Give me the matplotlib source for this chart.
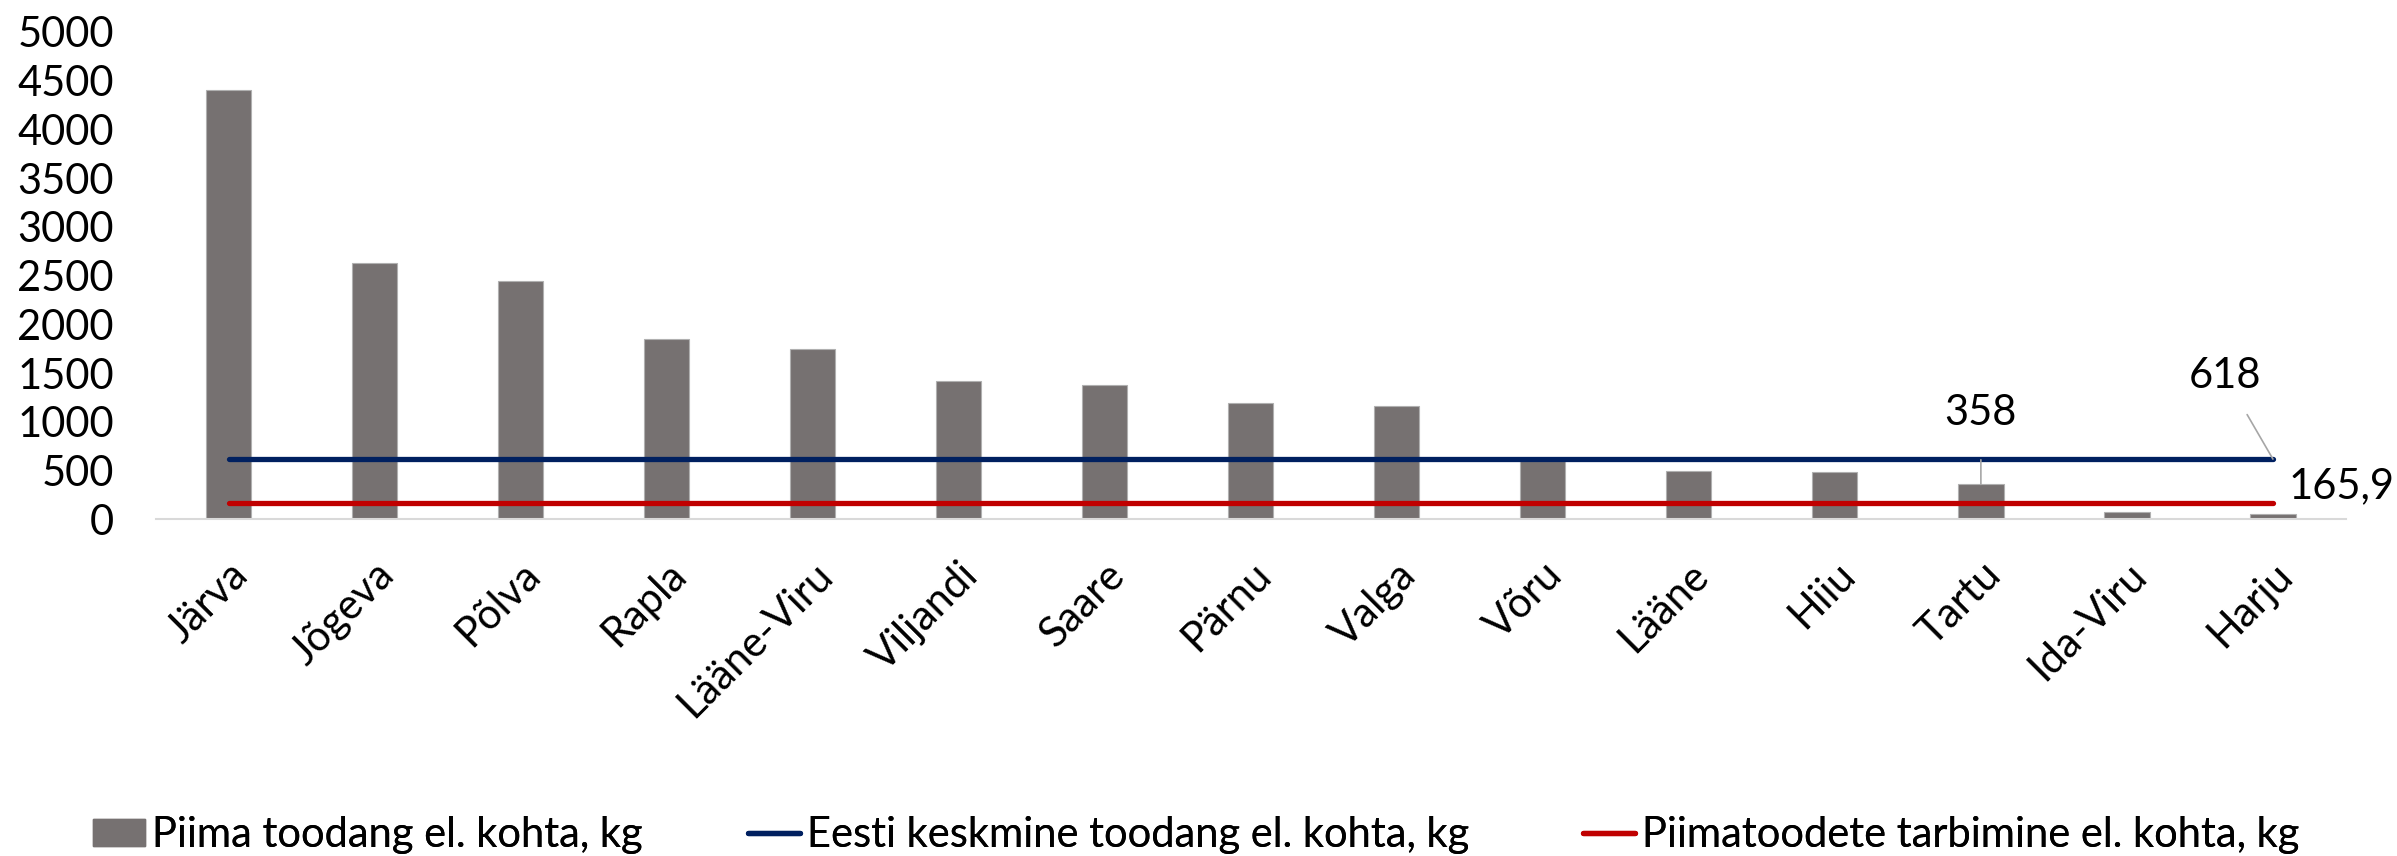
import matplotlib
matplotlib.use("Agg")
import matplotlib.pyplot as plt
from matplotlib.patches import Patch
from matplotlib.lines import Line2D

plt.rcParams['font.family'] = ['Lato', 'DejaVu Sans']

counties = ["Järva", "Jõgeva", "Põlva", "Rapla", "Lääne-Viru", "Viljandi", "Saare",
            "Pärnu", "Valga", "Võru", "Lääne", "Hiiu", "Tartu", "Ida-Viru", "Harju"]
milk_per_capita = [4400, 2630, 2440, 1852, 1750, 1422, 1374, 1196, 1165, 600, 495, 482, 358, 72, 51]
estonia_avg = [618] * len(counties)
consumption = [165.9] * len(counties)
yticks = [0, 500, 1000, 1500, 2000, 2500, 3000, 3500, 4000, 4500, 5000]

series_names = ["Piima toodang el. kohta, kg",
                "Eesti keskmine toodang el. kohta, kg",
                "Piimatoodete tarbimine el. kohta, kg"]

BAR = "#767171"
BLUE = "#002060"
RED = "#C00000"
FS = 30

fig = plt.figure(figsize=(23.97, 8.56), dpi=100)
ax = fig.add_axes([0.0649, 0.3933, 0.9138, 0.5696])

x = list(range(len(counties)))
ax.bar(x, milk_per_capita, width=0.31, color=BAR, edgecolor="#b0b0b0", linewidth=0.8, zorder=2)
ax.plot(x, estonia_avg, color=BLUE, linewidth=3.8, solid_capstyle="round", zorder=3)
ax.plot(x, consumption, color=RED, linewidth=3.8, solid_capstyle="round", zorder=3)

ax.set_xlim(-0.5, len(counties) - 0.5)
ax.set_ylim(0, 5000)
ax.set_yticks(yticks)
ax.set_yticklabels([str(v) for v in yticks], fontsize=FS)
ax.set_xticks(x)
ax.set_xticklabels(counties, fontsize=FS, rotation=45, ha="right", va="top",
                   rotation_mode="anchor")
ax.tick_params(axis="y", length=0, pad=30)
ax.tick_params(axis="x", length=0, pad=26)
for s in ["top", "right", "left"]:
    ax.spines[s].set_visible(False)
ax.spines["bottom"].set_color("#d9d9d9")
ax.spines["bottom"].set_linewidth(1.5)

# data labels
ax.annotate("618", xy=(x[-1], estonia_avg[-1]), xytext=(13.67, 1470),
            ha="center", va="center", fontsize=FS, annotation_clip=False,
            arrowprops=dict(arrowstyle="-", color="#a6a6a6", lw=1.2, shrinkA=14, shrinkB=0))
ax.annotate("358", xy=(12, milk_per_capita[12]), xytext=(12, 1090),
            ha="center", va="center", fontsize=FS, annotation_clip=False,
            arrowprops=dict(arrowstyle="-", color="#a6a6a6", lw=1.2, shrinkA=18, shrinkB=0))
ax.annotate("165,9", xy=(x[-1], consumption[-1]), xytext=(14.11, 341),
            ha="left", va="center", fontsize=FS, annotation_clip=False)

handles = [Patch(facecolor=BAR, edgecolor=BAR),
           Line2D([0], [0], color=BLUE, linewidth=3.8, solid_capstyle="round"),
           Line2D([0], [0], color=RED, linewidth=3.8, solid_capstyle="round")]
legend_x = [93, 748, 1583]
for h, name, lx in zip(handles, series_names, legend_x):
    leg = fig.legend([h], [name], loc="center left", bbox_to_anchor=(lx / 2397, 1 - 835 / 856),
                     frameon=False, fontsize=FS, handlelength=1.25, handleheight=0.6,
                     handletextpad=0.17, borderpad=0, borderaxespad=0)
    fig.add_artist(leg)

fig.savefig("out.png", dpi=100, facecolor="white")
